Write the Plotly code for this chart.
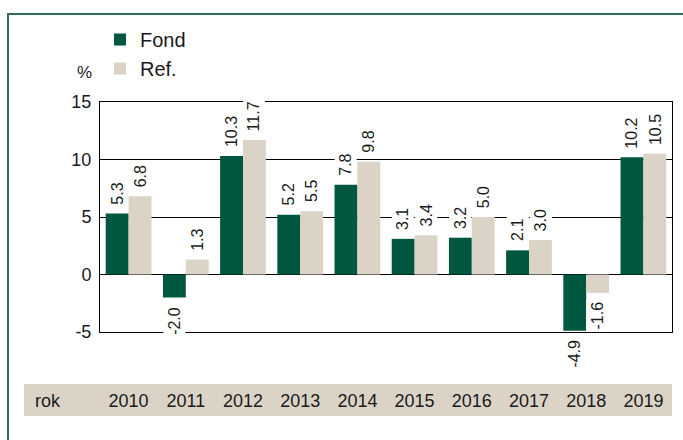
import plotly.graph_objects as go

years = ["2010", "2011", "2012", "2013", "2014", "2015", "2016", "2017", "2018", "2019"]
fond = [5.3, -2.0, 10.3, 5.2, 7.8, 3.1, 3.2, 2.1, -4.9, 10.2]
ref = [6.8, 1.3, 11.7, 5.5, 9.8, 3.4, 5.0, 3.0, -1.6, 10.5]
y_tickvals = [-5, 0, 5, 10, 15]
y_ticklabels = ["-5", "0", "5", "10", "15"]

GREEN = "#00573F"
BEIGE = "#DCD3C7"
FONT = "Arial, Liberation Sans, sans-serif"

W, H = 683, 440
L, R, T, B = 100, 11, 102, 108
pw, ph = W - L - R, H - T - B

def px2paper_x(px):
    return (px - L) / pw

def px2paper_y(py):
    return (H - B - py) / ph

fig = go.Figure()
fig.add_trace(go.Bar(x=years, y=fond, name="Fond", marker=dict(color=GREEN, line=dict(width=0))))
fig.add_trace(go.Bar(x=years, y=ref, name="Ref.", marker=dict(color=BEIGE, line=dict(width=0))))

annotations = []
for i, (f, r) in enumerate(zip(fond, ref)):
    for val, off in ((f, -0.2), (r, 0.2)):
        annotations.append(dict(
            x=i + off, y=val, xref="x", yref="y",
            text=f"{val:.1f}", showarrow=False, textangle=-90,
            yanchor="bottom" if val >= 0 else "top",
            yshift=6 if val >= 0 else -6,
            font=dict(family=FONT, size=16, color="#1a1a1a"),
            bgcolor="white", borderpad=2,
        ))

annotations.append(dict(x=px2paper_x(84), y=px2paper_y(72), xref="paper", yref="paper",
                        text="%", showarrow=False, xanchor="center", yanchor="middle",
                        font=dict(family=FONT, size=17, color="#1a1a1a")))
annotations.append(dict(x=px2paper_x(33), y=px2paper_y(401), xref="paper", yref="paper",
                        text="rok", showarrow=False, xanchor="left", yanchor="middle",
                        font=dict(family=FONT, size=18, color="#1a1a1a")))

shapes = [
    dict(type="rect", xref="paper", yref="paper", layer="below",
         x0=px2paper_x(24), x1=px2paper_x(672), y0=px2paper_y(416), y1=px2paper_y(384),
         fillcolor=BEIGE, line=dict(width=0)),
    dict(type="path", xref="paper", yref="paper",
         path=f"M {px2paper_x(8)},{px2paper_y(445)} L {px2paper_x(8)},{px2paper_y(14)} L {px2paper_x(690)},{px2paper_y(14)}",
         line=dict(color="#2F6F57", width=2)),
]

fig.update_layout(
    width=W, height=H,
    margin=dict(l=L, r=R, t=T, b=B, pad=0),
    paper_bgcolor="white", plot_bgcolor="white",
    barmode="group", bargap=0.2, bargroupgap=0,
    font=dict(family=FONT, color="#1a1a1a"),
    showlegend=True,
    legend=dict(x=0, xanchor="left", y=px2paper_y(20), yanchor="top",
                font=dict(family=FONT, size=20, color="#1a1a1a"),
                bgcolor="rgba(0,0,0,0)", traceorder="normal"),
    annotations=annotations,
    shapes=shapes,
)
fig.update_xaxes(type="category", showline=True, mirror=True, linecolor="black", linewidth=1,
                 showgrid=False, ticks="", tickfont=dict(family=FONT, size=18, color="#1a1a1a"),
                 ticklabelstandoff=52)
fig.update_yaxes(range=[-5, 15], tickmode="array", tickvals=y_tickvals, ticktext=y_ticklabels,
                 showline=True, mirror=True, linecolor="black", linewidth=1,
                 showgrid=True, gridcolor="black", gridwidth=1,
                 zeroline=True, zerolinecolor="black", zerolinewidth=1,
                 ticks="", tickfont=dict(family=FONT, size=18, color="#1a1a1a"),
                 ticklabelstandoff=4)

fig.write_html("out.html", config={"displayModeBar": False},
               post_script="document.body.style.margin='0';document.body.style.overflow='hidden';")
